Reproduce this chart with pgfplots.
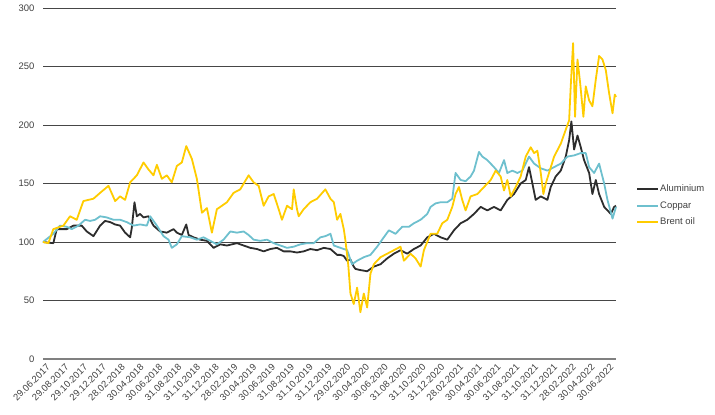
\documentclass[border=0pt]{standalone}
\usepackage{pgfplots}
\pgfplotsset{compat=1.18}
\usepackage{fontspec}
\setmainfont{Liberation Sans}
\definecolor{alu}{RGB}{45,45,45}
\definecolor{cop}{RGB}{110,192,206}
\definecolor{brent}{RGB}{255,204,0}
\definecolor{txt}{RGB}{64,64,64}
\begin{document}
\begin{tikzpicture}
\begin{axis}[
  scale only axis, width=573bp, height=351bp,
  xmin=0, xmax=61, ymin=0, ymax=300,
  ytick={0,50,...,300},
  xtick={0,2,...,60},
  xticklabels={29.06.2017,29.08.2017,29.10.2017,29.12.2017,28.02.2018,30.04.2018,30.06.2018,31.08.2018,31.10.2018,31.12.2018,28.02.2019,30.04.2019,30.06.2019,31.08.2019,31.10.2019,31.12.2019,29.02.2020,30.04.2020,30.06.2020,31.08.2020,31.10.2020,31.12.2020,28.02.2021,30.04.2021,30.06.2021,31.08.2021,31.10.2021,31.12.2021,28.02.2022,30.04.2022,30.06.2022},
  xticklabel style={rotate=45, anchor=north east, font=\fontsize{9.5}{11}\selectfont, text=txt, inner sep=1bp, yshift=-4bp},
  yticklabel style={font=\fontsize{9.5}{11}\selectfont, text=txt, xshift=-5bp},
  /pgf/number format/assume math mode=true,
  major tick length=0pt,
  axis x line*=bottom, axis y line*=left,
  y axis line style={draw=none},
  x axis line style={draw={rgb,255:red,128;green,128;blue,128}, line width=1.5bp},
  ymajorgrids, grid style={draw={rgb,255:red,70;green,70;blue,70}, line width=0.8bp},
  legend style={at={(1,0.437)}, anchor=west, xshift=20bp, draw=none, fill=none, inner sep=0pt,
    font=\fontsize{9.5}{11}\selectfont, text=txt,
    nodes={inner sep=1bp, text height=7bp, text depth=2bp}, row sep=5.5bp},
  legend cell align=left,
  legend image code/.code={\draw[#1, line width=2bp] (0bp,0bp) -- (21bp,0bp);},
  every axis plot/.append style={line width=1.8bp, line join=round},
  clip=false,
]
\addplot[alu] coordinates {
(0,100) (1.1,99) (1.46,111) (2.53,111) (3.24,114) (4.12,114) (4.66,109) (5.37,105) (6.08,114) (6.61,118) (7.15,117) (7.68,115) (8.21,114) (8.74,108) (9.28,104) (9.45,112) (9.74,134) (9.99,122) (10.34,124) (10.70,121) (11.23,122) (11.76,114) (12.47,109) (13.18,108) (13.90,111) (14.25,108) (14.78,106) (15.25,115) (15.50,106) (16.03,104) (16.74,102) (17.45,101) (18.16,95) (18.87,98) (19.58,97) (20.65,99) (21.36,97) (22.07,95) (22.78,94) (23.49,92) (24.20,94) (24.91,95) (25.62,92) (26.33,92) (27.04,91) (27.75,92) (28.46,94) (29.18,93) (29.89,95) (30.60,94) (31.31,89) (31.66,89) (32.02,88) (32.37,84) (32.73,85) (33.08,79) (33.26,77) (33.79,76) (34.51,75) (35.22,79) (35.93,81) (36.64,86) (37.35,90) (38.06,93) (38.77,90) (39.48,94) (40.2,97) (40.91,104) (41.62,107) (42.33,104) (43.04,102) (43.75,110) (44.46,116) (45.17,119) (45.88,124) (46.59,130) (47.3,127) (48.01,130) (48.72,127) (49.43,136) (50.14,141) (50.85,150) (51.39,153) (51.74,164) (52.1,150) (52.45,136) (52.99,139) (53.7,136) (54.05,147) (54.58,156) (55.12,161) (55.65,173) (56.01,187) (56.25,203) (56.54,179) (56.9,191) (57.25,181) (57.6,170) (58.14,159) (58.49,141) (58.85,153) (59.2,141) (59.74,130) (60.45,124) (60.8,130) (61,131)
};
\addlegendentry{Aluminium}
\addplot[cop] coordinates {
(0,100) (1.1,107) (1.81,114) (2.53,113) (3.06,111) (3.77,114) (4.48,119) (5.01,118) (5.55,119) (6.08,122) (6.79,121) (7.50,119) (8.21,119) (8.92,117) (9.63,114) (10.34,115) (11.05,114) (11.41,122) (12.12,114) (12.83,105) (13.36,102) (13.71,95) (14.25,98) (14.78,105) (15.67,104) (16.38,102) (17.09,104) (17.80,101) (18.51,98) (19.22,102) (19.94,109) (20.65,108) (21.36,109) (21.89,106) (22.42,102) (23.13,101) (23.84,102) (24.56,99) (25.27,97) (25.98,95) (26.69,96) (27.40,98) (28.11,99) (28.82,99) (29.53,104) (30.06,105) (30.60,107) (30.96,97) (31.67,95) (32.38,93) (32.9,81) (33.44,84) (34.15,87) (34.86,89) (35.57,96) (36.28,104) (36.82,110) (37.53,107) (38.24,113) (38.95,113) (39.48,116) (40.2,119) (40.91,124) (41.26,130) (41.79,133) (42.33,134) (43.04,134) (43.57,137) (43.92,159) (44.46,153) (44.99,152) (45.52,156) (45.88,161) (46.41,177) (46.77,173) (47.3,170) (48.01,164) (48.54,159) (49.08,170) (49.43,159) (49.97,161) (50.5,159) (51.03,161) (51.74,173) (52.28,167) (52.99,163) (53.7,161) (54.41,164) (55.12,167) (55.83,173) (56.54,174) (57.25,176) (57.78,176) (58.14,164) (58.67,159) (59.2,167) (59.74,150) (60.09,136) (60.63,120) (61,130)
};
\addlegendentry{Coppar}
\addplot[brent] coordinates {
(0,100) (0.57,99) (1.1,111) (2.17,114) (2.88,122) (3.59,119) (4.30,135) (5.37,137) (6.08,142) (6.97,148) (7.68,135) (8.21,139) (8.74,136) (9.28,151) (9.99,157) (10.70,168) (11.23,162) (11.76,157) (12.12,166) (12.65,154) (13.18,157) (13.71,151) (14.25,165) (14.78,168) (15.25,182) (15.85,171) (16.38,154) (16.92,125) (17.45,129) (17.98,108) (18.51,128) (19.05,131) (19.58,134) (20.29,142) (21.00,145) (21.89,157) (22.42,151) (22.96,148) (23.49,131) (24.02,139) (24.56,141) (25.09,128) (25.44,119) (25.98,131) (26.51,128) (26.69,145) (27.04,128) (27.22,122) (27.75,128) (28.46,134) (29.18,137) (30.06,145) (30.60,137) (30.96,134) (31.31,119) (31.66,124) (32.02,111) (32.2,101) (32.5,80) (32.73,56) (33.08,47) (33.44,61) (33.79,40) (34.15,56) (34.51,44) (34.86,73) (35.22,81) (35.93,87) (36.64,90) (37.35,93) (38.06,96) (38.42,84) (39.13,90) (39.66,86) (40.2,79) (40.55,93) (41.26,107) (41.97,107) (42.5,116) (43.04,119) (43.57,130) (43.92,141) (44.28,147) (44.63,136) (44.99,127) (45.52,139) (46.24,141) (46.95,147) (47.66,153) (48.19,161) (48.72,156) (49.08,144) (49.43,153) (49.79,139) (50.32,147) (50.85,156) (51.39,173) (51.92,181) (52.28,176) (52.63,178) (52.99,159) (53.27,141) (53.52,150) (53.87,159) (54.41,173) (55.12,184) (55.65,196) (56.01,204) (56.18,233) (56.43,270) (56.64,207) (56.9,256) (57.18,236) (57.53,207) (57.78,233) (58.14,221) (58.49,216) (58.85,239) (59.2,259) (59.56,256) (59.91,247) (60.27,227) (60.63,210) (60.87,226) (61,224)
};
\addlegendentry{Brent oil}
\end{axis}
\path ([xshift=-43bp,yshift=-55bp]current axis.south west) rectangle ([xshift=99bp,yshift=8bp]current axis.north east);
\end{tikzpicture}
\end{document}
